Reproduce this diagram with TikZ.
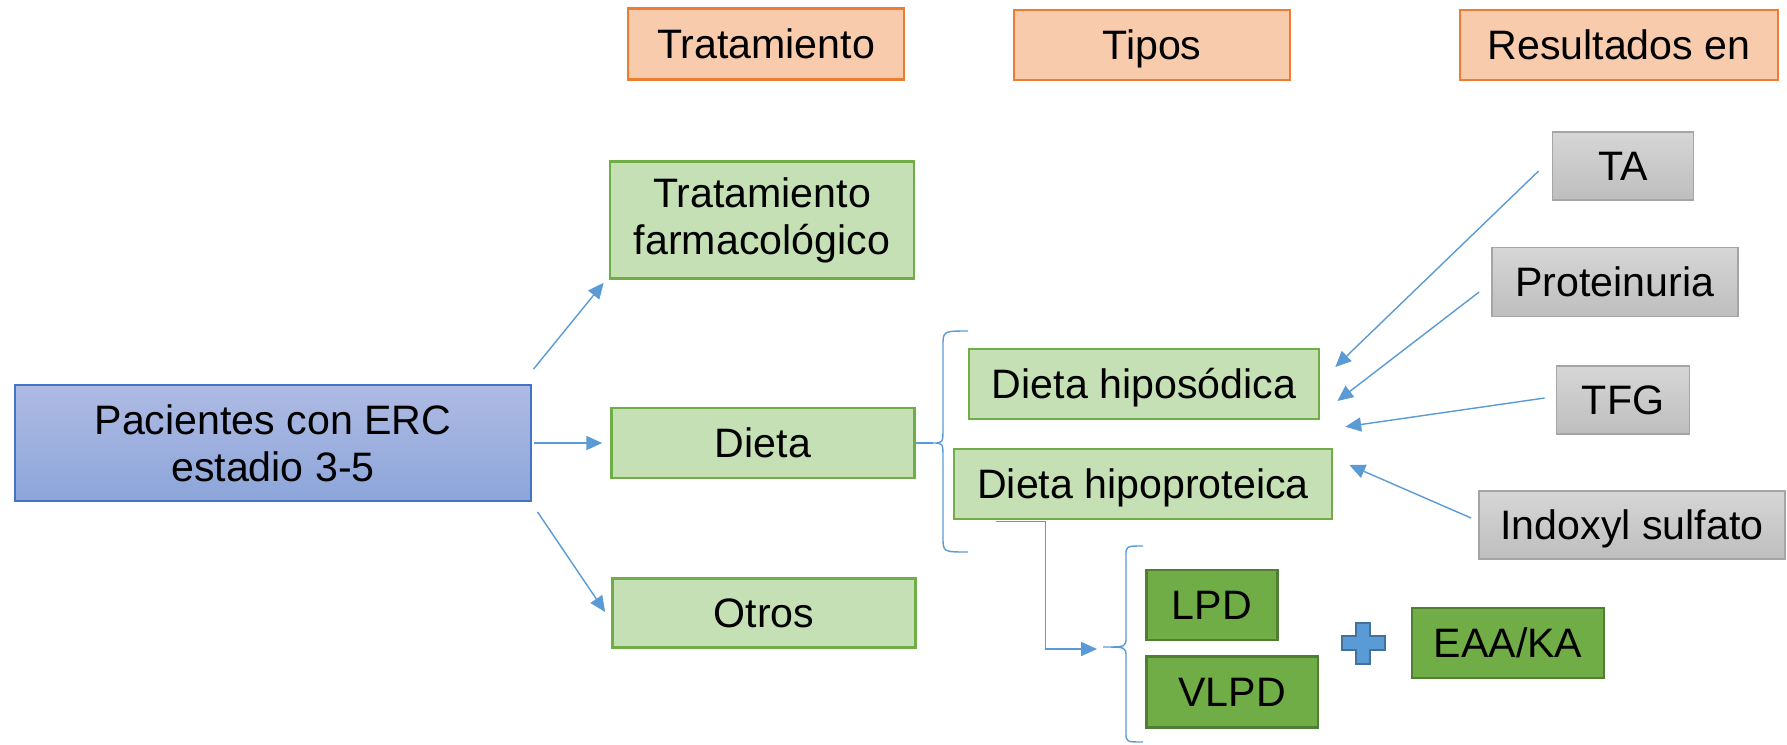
\documentclass[tikz,border=0pt]{standalone}
\usepackage{fontspec}
\setmainfont{Liberation Sans}
\usetikzlibrary{arrows.meta}
\definecolor{hdrfill}{HTML}{F8CBAD}
\definecolor{hdrline}{HTML}{ED7D31}
\definecolor{lgfill}{HTML}{C5E0B4}
\definecolor{lgline}{HTML}{70AD47}
\definecolor{dgfill}{HTML}{70AD47}
\definecolor{dgline}{HTML}{507E32}
\definecolor{bltop}{HTML}{AEBBE3}
\definecolor{blbot}{HTML}{8DA5DA}
\definecolor{blline}{HTML}{4472C4}
\definecolor{grtop}{HTML}{D6D6D6}
\definecolor{grbot}{HTML}{BEBEBE}
\definecolor{grline}{HTML}{A5A5A5}
\definecolor{arrcol}{HTML}{5B9BD5}
\definecolor{plusline}{HTML}{41719C}
\tikzset{
  box/.style={inner sep=0pt,align=center,font=\fontsize{11.7}{13.4}\selectfont},
  txt/.style={text height=8.4pt,text depth=0pt},
  hdr/.style={box,txt,draw=hdrline,fill=hdrfill,line width=0.7pt},
  lgbox/.style={box,draw=lgline,fill=lgfill,line width=0.7pt},
  dgbox/.style={box,txt,draw=dgline,fill=dgfill,line width=0.6pt},
  grbox/.style={box,txt,draw=grline,top color=grtop,bottom color=grbot,line width=0.5pt},
  arr/.style={draw=arrcol,line width=0.4pt,-{Triangle[length=4.5pt,width=4pt]}},
  brace/.style={draw=arrcol,line width=0.4pt}
}
\begin{document}
\begin{tikzpicture}[x=0.01cm,y=-0.01cm]
\useasboundingbox (0,0) rectangle (1787,744);

\node[hdr,minimum width=2.76cm,minimum height=0.71cm] (trat) at (766,44) {Tratamiento};
\node[hdr,minimum width=2.76cm,minimum height=0.70cm] (tipos) at (1152,45) {Tipos};
\node[hdr,minimum width=3.18cm,minimum height=0.70cm] (res) at (1619,45) {Resultados en};

\node[box,draw=blline,top color=bltop,bottom color=blbot,line width=0.5pt,minimum width=5.15cm,minimum height=1.16cm] (pac) at (273,443) {Pacientes con ERC\\estadio 3-5};

\node[lgbox,minimum width=3.04cm,minimum height=1.17cm] (farm) at (762,220) {Tratamiento\\farmacológico};
\node[lgbox,txt,minimum width=3.03cm,minimum height=0.70cm] (dieta) at (763,443) {Dieta};
\node[lgbox,txt,minimum width=3.03cm,minimum height=0.69cm] (otros) at (764,613) {Otros};

\node[lgbox,txt,minimum width=3.50cm,minimum height=0.70cm] (hipo) at (1144,384) {Dieta hiposódica};
\node[lgbox,txt,minimum width=3.78cm,minimum height=0.70cm] (hipop) at (1143,484) {Dieta hipoproteica};

\node[dgbox,minimum width=1.31cm,minimum height=0.70cm] (lpd) at (1212,605) {LPD};
\node[dgbox,minimum width=1.71cm,minimum height=0.71cm] (vlpd) at (1232,692) {VLPD};
\node[dgbox,minimum width=1.92cm,minimum height=0.70cm] (eaa) at (1508,643) {EAA/KA};

\node[grbox,minimum width=1.41cm,minimum height=0.68cm] (ta) at (1623,166) {TA};
\node[grbox,minimum width=2.46cm,minimum height=0.69cm] (prot) at (1615,282) {Proteinuria};
\node[grbox,minimum width=1.33cm,minimum height=0.68cm] (tfg) at (1623,400) {TFG};
\node[grbox,minimum width=3.06cm,minimum height=0.68cm] (indo) at (1632,525) {Indoxyl sulfato};

\draw[arr] ([shift={(2,-15)}]pac.north east) -- ([shift={(-5,3)}]farm.south west);
\draw[arr] ([shift={(2,0)}]pac.east) -- ([shift={(-8,0)}]dieta.west);
\draw[arr] ([shift={(6,10)}]pac.south east) -- ([shift={(-6,-1)}]otros.west);

\coordinate (b1) at (933,443);
\draw[brace] (dieta.east) -- (b1);
\draw[brace] (968,331) .. controls (943,331) .. (943,346) -- (943,428)
  .. controls (943,443) .. (b1) .. controls (943,443) .. (943,458) -- (943,537)
  .. controls (943,552) .. (968,552);

\draw[arr] ([shift={(-13,5)}]ta.west) -- ([shift={(15,-17)}]hipo.east);
\draw[arr] ([shift={(-12,10)}]prot.west) -- ([shift={(17,17)}]hipo.east);
\draw[arr] ([shift={(-11,-2)}]tfg.west) -- ([shift={(12,-21)}]hipop.north east);
\draw[arr] ([shift={(-7,-7)}]indo.west) -- ([shift={(16,-19)}]hipop.east);

\coordinate (b2) at (1103,647);
\draw[arr] ([shift={(43,1)}]hipop.south west) -- ++(50,0) |- ([shift={(-6,2)}]b2);
\draw[brace] (1143,546) .. controls (1126,546) .. (1126,556) -- (1126,637)
  .. controls (1126,647) .. (b2) .. controls (1126,647) .. (1126,657) -- (1126,732)
  .. controls (1126,742) .. (1143,742);

\draw[draw=plusline,fill=arrcol,line width=0.5pt] (1356,623) -- (1370,623) -- (1370,636) -- (1385,636)
  -- (1385,650) -- (1370,650) -- (1370,664) -- (1356,664) -- (1356,650) -- (1342,650)
  -- (1342,636) -- (1356,636) -- cycle;
\end{tikzpicture}
\end{document}
